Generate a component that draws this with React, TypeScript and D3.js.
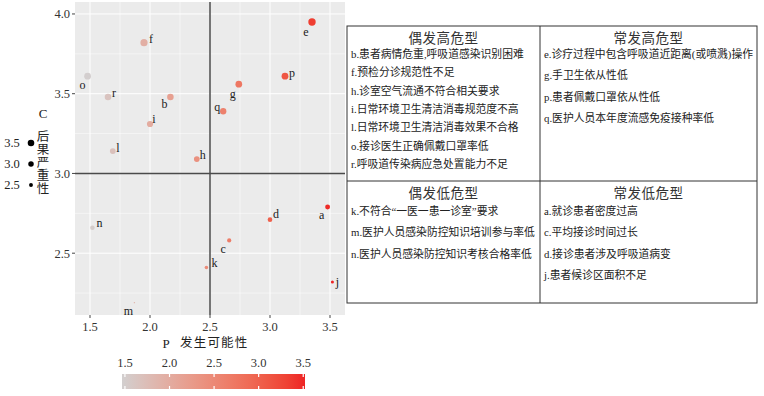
import { useEffect } from 'react'
import * as d3 from 'd3'

// risk factors: id, P (likelihood), C (severity)
const riskIds = ['a', 'b', 'c', 'd', 'e', 'f', 'g', 'h', 'i', 'j', 'k', 'l', 'm', 'n', 'o', 'p', 'q', 'r']
const pValues = [3.48, 2.17, 2.66, 3.0, 3.35, 1.95, 2.74, 2.39, 2.0, 3.52, 2.47, 1.69, 1.87, 1.52, 1.48, 3.125, 2.61, 1.65]
const cValues = [2.79, 3.48, 2.58, 2.71, 3.95, 3.82, 3.56, 3.09, 3.31, 2.32, 2.41, 3.14, 2.19, 2.66, 3.61, 3.61, 3.39, 3.48]
// label nudge (px) as placed by the repel step
const labelNudge: [number, number][] = [
  [-6, 8], [-6, 7], [-6, 8], [6, -6], [-6, 10], [7, -4], [-6, 10], [6, -4], [4, -5],
  [5, 0], [8, -5], [5, -3], [-6, 8], [7, -5], [-5, 9], [7, -3], [-6, -4], [6, -4]
]

const xTicks = [1.5, 2.0, 2.5, 3.0, 3.5]
const yTicks = [2.5, 3.0, 3.5, 4.0]
const sizeBreaks = [3.5, 3.0, 2.5]
const colorBreaks = [1.5, 2.0, 2.5, 3.0, 3.5]

const highOccasional = [
  'b.患者病情危重,呼吸道感染识别困难',
  'f.预检分诊规范性不足',
  'h.诊室空气流通不符合相关要求',
  'i.日常环境卫生清洁消毒规范度不高',
  'l.日常环境卫生清洁消毒效果不合格',
  'o.接诊医生正确佩戴口罩率低',
  'r.呼吸道传染病应急处置能力不足'
]
const highFrequent = [
  'e.诊疗过程中包含呼吸道近距离(或喷溅)操作',
  'g.手卫生依从性低',
  'p.患者佩戴口罩依从性低',
  'q.医护人员本年度流感免疫接种率低'
]
const lowOccasional = [
  'k.不符合“一医一患一诊室”要求',
  'm.医护人员感染防控知识培训参与率低',
  'n.医护人员感染防控知识考核合格率低'
]
const lowFrequent = [
  'a.就诊患者密度过高',
  'c.平均接诊时间过长',
  'd.接诊患者涉及呼吸道病变',
  'j.患者候诊区面积不足'
]

const serif = "'Liberation Serif', 'Noto Sans CJK SC', serif"

export default function App() {
  useEffect(() => {
    document.body.style.margin = '0'
  }, [])

  const x = d3.scaleLinear().domain([1.375, 3.625]).range([75, 345])
  const y = d3.scaleLinear().domain([2.1125, 4.075]).range([315, 2])
  const [pMin, pMax] = [1.467, 3.52]
  const color = d3.scaleLinear<string>().domain([pMin, pMax]).range(['#d2cfcf', '#ee2424']).interpolate(d3.interpolateLab)
  const [cMin, cMax] = d3.extent(cValues) as [number, number]
  const rScale = d3.scaleLinear().domain([0, 1]).range([0.7, 3.7])
  const radius = (c: number) => rScale(Math.sqrt((c - cMin) / (cMax - cMin)))

  const xMinor = d3.range(1.75, 3.6, 0.5)
  const yMinor = d3.range(2.25, 4.0, 0.5)

  const bar = d3.scaleLinear().domain([pMin, pMax]).range([122, 305])
  const gradStops = d3.range(0, 1.0001, 0.1)

  const points = riskIds.map((id, i) => ({ id, p: pValues[i], c: cValues[i], nudge: labelNudge[i] }))
    .sort((a, b) => b.c - a.c)

  const cell = (lines: string[], title: string, x0: number, x1: number, top: number, first: number, gap: number) => (
    <g>
      <text x={(x0 + x1) / 2} y={top} textAnchor="middle" fontSize={13.5} fill="#333" letterSpacing={0.5}>{title}</text>
      {lines.map((t, i) => (
        <text key={t} x={x0 + 4} y={first + i * gap} fontSize={10.8} fill="#222">{t}</text>
      ))}
    </g>
  )

  return (
    <svg width={764} height={396} style={{ display: 'block', fontFamily: serif }}>
      <rect width={764} height={396} fill="#fff" />
      {/* panel */}
      <rect x={75} y={2} width={270} height={313} fill="#ebebeb" />
      {xMinor.map(v => <line key={'xm' + v} x1={x(v)} x2={x(v)} y1={2} y2={315} stroke="#fff" strokeWidth={0.5} />)}
      {yMinor.map(v => <line key={'ym' + v} x1={75} x2={345} y1={y(v)} y2={y(v)} stroke="#fff" strokeWidth={0.5} />)}
      {xTicks.map(v => <line key={'xg' + v} x1={x(v)} x2={x(v)} y1={2} y2={315} stroke="#fff" strokeWidth={1} />)}
      {yTicks.map(v => <line key={'yg' + v} x1={75} x2={345} y1={y(v)} y2={y(v)} stroke="#fff" strokeWidth={1} />)}
      <line x1={x(2.5)} x2={x(2.5)} y1={2} y2={315} stroke="#4a4a4a" strokeWidth={1.5} />
      <line x1={75} x2={345} y1={y(3.0)} y2={y(3.0)} stroke="#4a4a4a" strokeWidth={1.5} />

      {points.map(d => (
        <circle key={d.id} cx={x(d.p)} cy={y(d.c)} r={radius(d.c)} fill={color(d.p)} />
      ))}
      {points.map(d => (
        <text key={'l' + d.id} x={x(d.p) + d.nudge[0]} y={y(d.c) + d.nudge[1]} dy="0.35em"
          textAnchor="middle" fontSize={12} fill="#222">{d.id}</text>
      ))}

      {/* axes */}
      {yTicks.map(v => (
        <g key={'yt' + v}>
          <line x1={72} x2={75} y1={y(v)} y2={y(v)} stroke="#444" />
          <text x={70} y={y(v)} dy="0.35em" textAnchor="end" fontSize={12.5} fill="#333">{v.toFixed(1)}</text>
        </g>
      ))}
      {xTicks.map(v => (
        <g key={'xt' + v}>
          <line x1={x(v)} x2={x(v)} y1={315} y2={318} stroke="#444" />
          <text x={x(v)} y={327} dy="0.35em" textAnchor="middle" fontSize={12.5} fill="#333">{v.toFixed(1)}</text>
        </g>
      ))}
      <text x={166} y={343} dy="0.35em" textAnchor="middle" fontSize={13} fill="#222">P</text>
      <text x={180} y={343} dy="0.35em" fontSize={12.5} fill="#222" letterSpacing={1.2}>发生可能性</text>

      {/* y title, stacked */}
      <text x={43} y={113} dy="0.35em" textAnchor="middle" fontSize={13} fill="#222">C</text>
      {'后果严重性'.split('').map((ch, i) => (
        <text key={ch} x={43} y={137 + i * 12.8} dy="0.35em" textAnchor="middle" fontSize={12.5} fill="#222">{ch}</text>
      ))}

      {/* size legend */}
      {sizeBreaks.map((v, i) => (
        <g key={'s' + v}>
          <text x={12} y={143 + i * 21} dy="0.35em" textAnchor="middle" fontSize={12.5} fill="#222">{v.toFixed(1)}</text>
          <circle cx={31} cy={143 + i * 21} r={radius(v)} fill="#000" />
        </g>
      ))}

      {/* colour bar */}
      <defs>
        <linearGradient id="pgrad" x1="0" x2="1" y1="0" y2="0">
          {gradStops.map(t => (
            <stop key={t} offset={t} stopColor={color(pMin + t * (pMax - pMin))} />
          ))}
        </linearGradient>
      </defs>
      <rect x={bar(pMin)} y={374} width={bar(pMax) - bar(pMin)} height={15} fill="url(#pgrad)" />
      {colorBreaks.map(v => (
        <g key={'cb' + v}>
          <line x1={bar(v)} x2={bar(v)} y1={374} y2={377} stroke="#fff" strokeWidth={1.2} />
          <line x1={bar(v)} x2={bar(v)} y1={386} y2={389} stroke="#fff" strokeWidth={1.2} />
          <text x={bar(v)} y={363} dy="0.35em" textAnchor="middle" fontSize={12.5} fill="#333">{v.toFixed(1)}</text>
        </g>
      ))}

      {/* quadrant table */}
      <rect x={347} y={26} width={410} height={277} fill="#fff" stroke="#333" strokeWidth={1} />
      <line x1={540} x2={540} y1={26} y2={303} stroke="#333" />
      <line x1={347} x2={757} y1={181} y2={181} stroke="#333" />
      {cell(highOccasional, '偶发高危型', 347, 540, 43, 58, 18.3)}
      {cell(highFrequent, '常发高危型', 540, 757, 43, 58, 21.3)}
      {cell(lowOccasional, '偶发低危型', 347, 540, 198, 215, 21.3)}
      {cell(lowFrequent, '常发低危型', 540, 757, 198, 215, 21.3)}
    </svg>
  )
}
